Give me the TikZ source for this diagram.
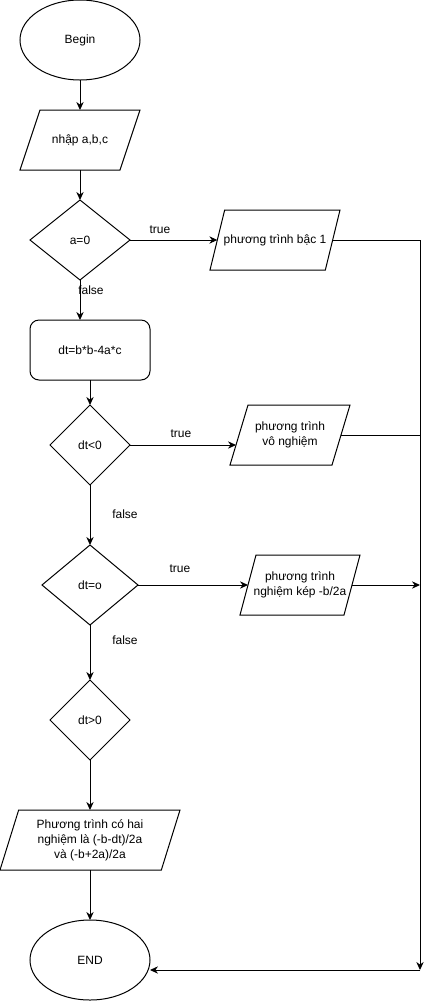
\documentclass[tikz,border=0pt]{standalone}
\usepackage{fontspec}
\setmainfont{Liberation Sans}
\usetikzlibrary{shapes.geometric,arrows.meta}

\tikzset{
    flow/.style={draw, line width=0.75pt, inner sep=0pt, outer sep=0pt, align=center, font=\fontsize{9}{11.25}\selectfont},
    term/.style={flow, ellipse, minimum width=90pt, minimum height=60pt},
    io/.style={flow, draw=none, rectangle, minimum height=45pt},
    decide/.style={flow, diamond, minimum height=60pt},
    proc/.style={flow, rectangle, rounded corners=6.75pt, minimum width=90pt, minimum height=45pt},
    lbl/.style={font=\fontsize{9}{11.25}\selectfont, inner sep=0pt},
    arr/.style={line width=0.75pt, -{Stealth[length=6pt,width=5.5pt]}},
    ln/.style={line width=0.75pt}
}

\begin{document}
\begin{tikzpicture}[x=0.75pt,y=0.75pt,yscale=-1,xscale=1]
    \useasboundingbox (0,0) rectangle (429,1001);

    %Shape: Ellipse
    \node [term] (begin) at (80,40) {Begin};
    %Shape: Parallelogram
    \node [io, minimum width=90pt] (nhap) at (80,140) {nhập a,b,c};
    %Shape: Diamond
    \node [decide, minimum width=75pt] (aeq) at (80,240) {a=0};
    %Shape: Parallelogram
    \node [io, minimum width=97.5pt] (bac) at (275,240) {phương trình bậc 1};
    %Shape: Rounded Rect
    \node [proc] (delta) at (90,350) {dt=b*b-4a*c};
    %Shape: Diamond
    \node [decide, minimum width=60pt] (dtlt) at (90,445) {dt<0};
    %Shape: Parallelogram
    \node [io, minimum width=90pt] (vo) at (290,435) {phương trình\\vô nghiệm};
    %Shape: Diamond
    \node [decide, minimum width=72pt] (dteq) at (90,585) {dt=o};
    %Shape: Parallelogram
    \node [io, minimum width=90pt] (kep) at (300,585) {phương trình\\nghiệm kép -b/2a};
    %Shape: Diamond
    \node [decide, minimum width=60pt] (dtgt) at (90,720) {dt>0};
    %Shape: Parallelogram
    \node [io, minimum width=135pt] (hai) at (90,840) {Phương trình có hai\\nghiệm là (-b-dt)/2a\\ và (-b+2a)/2a};
    %Shape: Ellipse
    \node [term] (end) at (90,960) {END};
    \coordinate (rt) at (420,970);
    \coordinate (voin) at ([xshift=4.5pt]vo.west);

    %Parallelogram borders
    \foreach \n/\s in {nhap/15pt, bac/11pt, vo/13.5pt, kep/12pt, hai/14pt}
        \draw [ln] ([xshift=\s]\n.north west) -- (\n.north east) -- ([xshift=-\s]\n.south east) -- (\n.south west) -- cycle;

    % Text Node
    \node [lbl] (t1) at (160,230) {true};
    % Text Node
    \node [lbl] (f1) at (91,290) {false};
    % Text Node
    \node [lbl] (t2) at (181,434) {true};
    % Text Node
    \node [lbl] (f2) at (125,514) {false};
    % Text Node
    \node [lbl] (t3) at (180,569) {true};
    % Text Node
    \node [lbl] (f3) at (125,640) {false};

    %Straight Lines
    \draw [arr] (begin) -- (nhap);
    \draw [arr] (nhap) -- (aeq);
    \draw [arr] (aeq.east) -- ([xshift=5.5pt]bac.west);
    \draw [arr] (aeq.south) -- (aeq.south |- delta.north);
    \draw [arr] (delta) -- (dtlt);
    \draw [arr] (dtlt.east) -- (dtlt.east -| voin);
    \draw [arr] (dtlt) -- (dteq);
    \draw [arr] (dteq.east) -- ([xshift=6pt]kep.west);
    \draw [arr] (dteq) -- (dtgt);
    \draw [arr] (dtgt) -- (hai);
    \draw [arr] (hai) -- (end);
    %Right side
    \draw [arr] ([xshift=-5.5pt]bac.east) -| (rt);
    \draw [ln] ([xshift=-6.75pt]vo.east) -- (vo.east -| rt);
    \draw [arr] ([xshift=-6pt]kep.east) -- (kep.east -| rt);
    \draw [arr] (rt) -- (rt -| end.east);
\end{tikzpicture}
\end{document}
